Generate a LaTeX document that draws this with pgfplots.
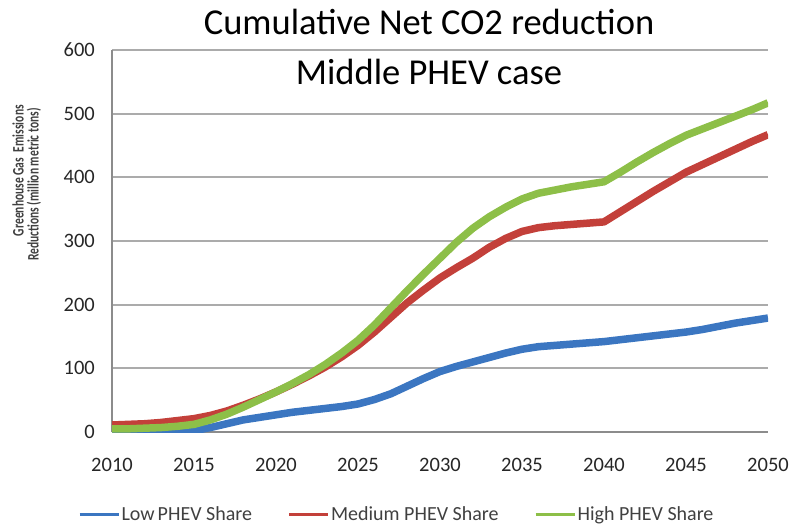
\documentclass[border=0pt]{standalone}
\usepackage{fontspec}
\setmainfont{Carlito}
\usepackage{graphicx}
\usepackage{pgfplots}
\usepackage{pgfplotstable}
\pgfplotsset{compat=1.18}

\definecolor{lowblue}{HTML}{3B76C1}
\definecolor{medred}{HTML}{C3403A}
\definecolor{highgreen}{HTML}{8DBF48}
\definecolor{gridgray}{HTML}{ABABAB}
\definecolor{axisgray}{HTML}{8C8C8C}
\definecolor{ticktext}{HTML}{262626}
\definecolor{labeltext}{HTML}{404040}

% Cumulative net CO2 reduction (million metric tons) by PHEV share scenario
\pgfplotstableread{
year low med high
2010 0 11 5
2011 0 12 5
2012 0 13 6
2013 0 15 7
2014 0 18 9
2015 2 21 12
2016 7 26 19
2017 13 33 28
2018 19 42 39
2019 23 52 51
2020 27 63 63
2021 31 75 76
2022 34 88 90
2023 37 102 106
2024 40 118 124
2025 44 136 144
2026 51 157 168
2027 60 180 195
2028 72 203 222
2029 84 223 248
2030 95 242 273
2031 103 258 298
2032 110 273 320
2033 117 290 338
2034 124 304 353
2035 130 315 366
2036 134 321 375
2037 136 324 380
2038 138 326 385
2039 140 328 389
2040 142 330 393
2041 145 346 408
2042 148 362 424
2043 151 378 439
2044 154 393 453
2045 157 408 466
2046 161 420 476
2047 166 432 486
2048 171 444 496
2049 175 456 506
2050 179 467 517
}\reductiondata

\begin{document}
\begin{tikzpicture}
\path[use as bounding box] (-112pt,-93pt) rectangle (679pt,432pt);
\begin{axis}[
  at={(0pt,0pt)}, anchor=south west,
  scale only axis, width=656pt, height=382pt,
  xmin=2010, xmax=2050, ymin=0, ymax=600,
  xtick={2010,2015,...,2050}, ytick={0,100,...,600},
  axis x line*=bottom, axis y line*=left,
  axis line style={draw=axisgray, line width=2pt, -},
  ymajorgrids, grid style={draw=gridgray, line width=1.8pt},
  major tick length=0pt,
  /pgf/number format/assume math mode=true,
  /pgf/number format/1000 sep={},
  tick label style={font=\fontsize{20.5}{24}\selectfont, text=ticktext},
  xticklabel style={anchor=base, yshift=-39pt, inner sep=0pt},
  yticklabel style={anchor=east, xshift=-17pt, inner sep=0pt},
  legend columns=3,
  legend style={at={(axis description cs:0.4337,-0.216)}, anchor=center,
    draw=none, fill=none, font=\fontsize{20}{22}\selectfont, text=labeltext,
    nodes={inner sep=1.5pt},
    /tikz/every even column/.append style={column sep=34pt}},
  legend cell align=left,
  legend image code/.code={\draw[#1, line width=3pt] (0pt,0pt) -- (39pt,0pt);},
  every axis plot/.append style={line width=7.5pt, line join=round},
]
\addplot[lowblue] table[x=year, y=low] {\reductiondata};
\addlegendentry{Low\hspace{0.15em}PHEV Share}
\addplot[medred] table[x=year, y=med] {\reductiondata};
\addlegendentry{Medium PHEV Share}
\addplot[highgreen] table[x=year, y=high] {\reductiondata};
\addlegendentry{High PHEV Share}
\end{axis}

% chart title
\node[anchor=base, font=\fontsize{36.5}{40}\selectfont] at (317pt,397pt) {Cumulative Net CO2 reduction};
\node[anchor=base, font=\fontsize{36.5}{40}\selectfont] at (317pt,347pt) {Middle PHEV case};

% y-axis label
\node[rotate=90, anchor=east, inner sep=0pt, text=labeltext, font=\bfseries\fontsize{16}{18}\selectfont]
  at (-94pt,327pt) {\scalebox{0.72}[1]{Greenhouse Gas\hspace{0.5em}Emissions}};
\node[rotate=90, anchor=east, inner sep=0pt, text=labeltext, font=\bfseries\fontsize{16}{18}\selectfont]
  at (-78pt,324pt) {\scalebox{0.72}[1]{Reductions (million metric tons)}};
\end{tikzpicture}
\end{document}
